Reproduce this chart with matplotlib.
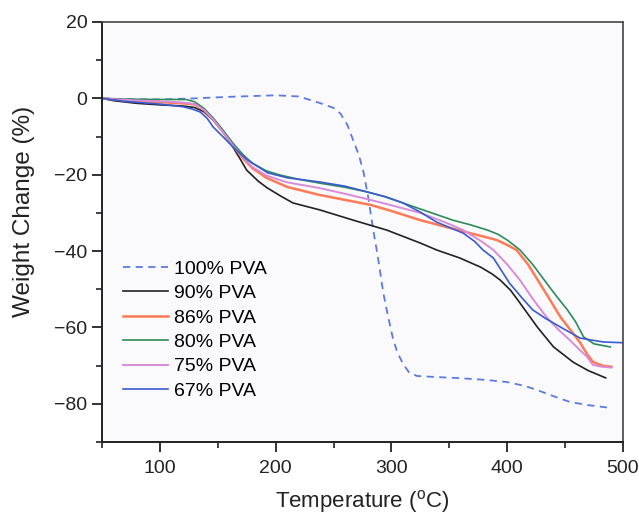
import matplotlib
matplotlib.use("Agg")
import matplotlib.pyplot as plt
from matplotlib.ticker import MultipleLocator

plt.rcParams['font.family'] = ['Liberation Sans', 'DejaVu Sans']
plt.rcParams['mathtext.fontset'] = 'custom'
plt.rcParams['mathtext.rm'] = 'Liberation Sans'

labels = ["100% PVA", "90% PVA", "86% PVA", "80% PVA", "75% PVA", "67% PVA"]

x100 = [50, 70, 100, 130, 160, 200, 220, 238, 250, 256, 262, 267, 272, 276, 280, 284, 288, 293, 297, 301, 305, 310, 315, 322, 340, 360, 380, 400, 415, 426, 440, 454, 469, 490]
y100 = [0, -0.2, -0.3, 0, 0.4, 0.8, 0.5, -1.2, -2.5, -4, -7, -11, -15, -19.5, -26, -34, -41, -51, -57, -62.5, -66.5, -69.5, -71.7, -72.7, -73.0, -73.3, -73.7, -74.3, -75.3, -76.4, -78, -79.5, -80.3, -81.1]

x90 = [50, 60, 80, 100, 120, 130, 138, 146, 155, 163, 170, 175, 185, 193, 205, 215, 238, 267, 296, 325, 339, 359, 377, 387, 394, 403, 411, 426, 440, 457, 470, 485]
y90 = [0, -0.6, -1.3, -1.7, -2.0, -2.4, -3.5, -5.7, -9, -12.7, -16.2, -18.8, -21.7, -23.5, -25.7, -27.4, -29.2, -31.9, -34.5, -37.9, -39.7, -41.8, -44.2, -46.0, -47.6, -50.3, -53.6, -59.9, -65.1, -69.1, -71.3, -73.2]

x86 = [50, 70, 100, 120, 130, 138, 146, 155, 163, 172, 180, 192, 210, 238, 260, 282, 300, 325, 345, 368, 391, 400, 408, 418, 428, 437, 446, 455, 463, 469, 474, 482, 490]
y86 = [0, -0.5, -1, -1.3, -1.6, -3.0, -5.5, -9, -12.3, -15.8, -18.3, -20.8, -23.2, -25.3, -26.6, -27.9, -29.5, -31.9, -33.5, -35.3, -37.1, -38.4, -39.7, -43.5, -48.4, -52.8, -57.3, -60.8, -64, -67, -69, -70, -70.3]

x80 = [50, 70, 100, 123, 130, 138, 146, 155, 163, 172, 180, 192, 204, 220, 238, 260, 279, 295, 310, 330, 353, 368, 383, 392, 400, 411, 422, 434, 443, 452, 459, 466, 475, 489]
y80 = [0, -0.2, -0.3, -0.3, -0.9, -2.6, -5.1, -8.5, -11.7, -14.8, -17, -19, -20.1, -21.2, -22.2, -23.3, -24.5, -25.8, -27.4, -29.5, -31.9, -33.1, -34.5, -35.6, -37.1, -39.7, -43.5, -48.4, -52, -55.4, -58.5, -62.5, -64.3, -65.1]

x75 = [50, 70, 100, 120, 130, 138, 146, 155, 163, 172, 180, 192, 210, 238, 260, 282, 300, 325, 345, 362, 378, 388, 400, 411, 422, 434, 444, 454, 463, 469, 474, 482, 490]
y75 = [0, -0.4, -0.8, -1.1, -1.5, -3.0, -5.5, -9, -12.3, -15.5, -18, -20.2, -22, -23.5, -25, -26.6, -28, -30, -32.3, -34.5, -37.5, -39.7, -43.5, -47.6, -52.5, -57.3, -60.5, -63.3, -66, -67.7, -69.8, -70.3, -70.5]

x67 = [50, 70, 100, 120, 128, 135, 141, 146, 155, 163, 175, 193, 210, 238, 260, 279, 295, 310, 325, 339, 350, 362, 372, 379, 388, 402, 412, 422, 434, 446, 463, 483, 500]
y67 = [0, -0.8, -1.5, -2.2, -2.8, -3.6, -5.3, -7.5, -10.2, -12.7, -16, -19.5, -20.8, -21.9, -23, -24.5, -25.8, -27.4, -29.8, -32.4, -33.8, -35.3, -37.5, -39.7, -41.8, -48.4, -52, -55.4, -57.8, -59.9, -62.8, -63.8, -64]

fig = plt.figure(figsize=(6.39, 5.15), dpi=100)
fig.patch.set_facecolor('white')
ax = fig.add_axes([0.1596, 0.1417, 0.8154, 0.8156])
ax.set_facecolor('#fafafd')

ax.plot(x100, y100, color='#5b7be0', lw=1.3, ls=(0, (4, 3)), label=labels[0])
ax.plot(x90, y90, color='#222222', lw=1.2, label=labels[1])
ax.plot(x86, y86, color='#ff7a55', lw=1.8, label=labels[2])
ax.plot(x80, y80, color='#2e8b57', lw=1.2, label=labels[3])
ax.plot(x75, y75, color='#d98ad9', lw=1.4, label=labels[4])
ax.plot(x67, y67, color='#3a5bd0', lw=1.2, label=labels[5])

ax.set_xlim(50, 500)
ax.set_ylim(-90, 20)
ax.xaxis.set_major_locator(MultipleLocator(100))
ax.xaxis.set_minor_locator(MultipleLocator(50))
ax.yaxis.set_major_locator(MultipleLocator(20))
ax.yaxis.set_minor_locator(MultipleLocator(10))
ax.tick_params(which='major', direction='out', length=7, width=1.3, labelsize=14, colors='#222222')
ax.tick_params(which='minor', direction='out', length=4, width=1.2, colors='#222222')
ax.tick_params(axis='x', pad=6)

for s in ['left', 'bottom']:
    ax.spines[s].set_linewidth(1.4)
    ax.spines[s].set_color('#222222')
for s in ['top', 'right']:
    ax.spines[s].set_linewidth(1.2)
    ax.spines[s].set_color('#444444')

ax.set_xlabel(r'Temperature ($^{\mathrm{o}}$C)', fontsize=16, color='#222222')
ax.set_ylabel('Weight Change (%)', fontsize=17.5, color='#222222')
ax.xaxis.set_label_coords(0.5, -0.11)
ax.yaxis.set_label_coords(-0.128, 0.55)

leg = ax.legend(loc='upper left', bbox_to_anchor=(0.04, 0.433), frameon=False,
                fontsize=14, handlelength=2.3, handletextpad=0.35, labelspacing=0.35,
                borderaxespad=0, borderpad=0)

fig.savefig('out.png', dpi=100)
